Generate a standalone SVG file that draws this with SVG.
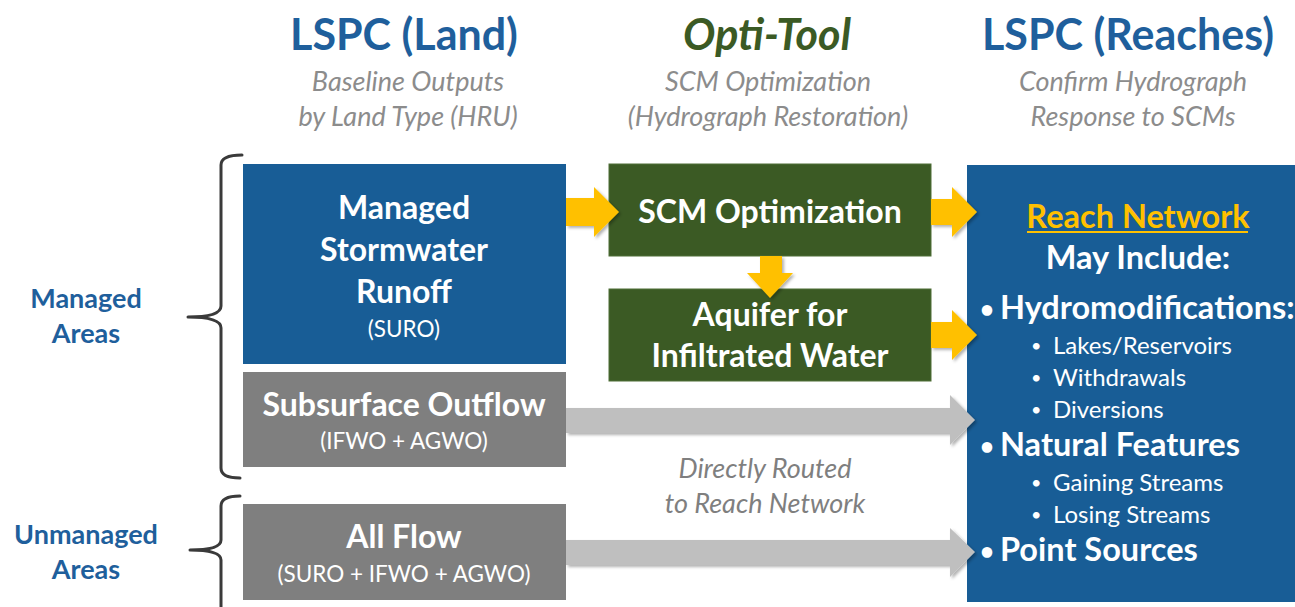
<svg xmlns="http://www.w3.org/2000/svg" width="1295" height="607" viewBox="0 0 1295 607">
<defs>
<style>
text{font-family:Lato,"Noto Sans","Liberation Sans",sans-serif}
.title{font-size:43px;font-weight:bold;text-anchor:middle}
.sub{font-size:27px;font-style:italic;fill:#8c8c8c;text-anchor:middle}
.area{font-size:27px;font-weight:bold;fill:#1f5f9c;text-anchor:middle}
.bt{font-size:32px;font-weight:bold;fill:#fff;text-anchor:middle}
.bs{font-size:22.5px;fill:#fff;text-anchor:middle}
.rb{font-size:32.5px;font-weight:bold;fill:#fff}
.rs{font-size:24px;fill:#fff}
.bul{font-size:24px;font-weight:bold;fill:#fff}
.bul2{font-size:18px;fill:#fff}
.brace{fill:none;stroke:#3a3a3a;stroke-width:3;stroke-linecap:round;stroke-linejoin:round}
.ya{fill:#ffc000;filter:url(#sh)}
.ga{fill:#bfbfbf;filter:url(#sh)}
</style>
<filter id="sh" x="-10%" y="-20%" width="130%" height="160%">
<feDropShadow dx="2" dy="2" stdDeviation="1.5" flood-color="#000" flood-opacity="0.3"/>
</filter>
</defs>
<rect width="1295" height="607" fill="#fff"/>

<g id="headers">
<text class="title" x="404" y="50" fill="#1f5f9c">LSPC (Land)</text>
<text class="title" x="767" y="50" fill="#3b5a24" font-style="italic">Opti-Tool</text>
<text class="title" x="1128" y="50" fill="#1f5f9c">LSPC (Reaches)</text>
<text class="sub" x="408" y="91">Baseline Outputs</text>
<text class="sub" x="408" y="126">by Land Type (HRU)</text>
<text class="sub" x="768" y="91">SCM Optimization</text>
<text class="sub" x="768" y="126">(Hydrograph Restoration)</text>
<text class="sub" x="1133" y="91">Confirm Hydrograph</text>
<text class="sub" x="1133" y="126">Response to SCMs</text>
</g>

<g id="managed-areas">
<path class="brace" d="M242 155 Q221 155 221 165 L221 306 Q221 317 188 317 Q221 317 221 328 L221 468 Q221 478 240 478"/>
<text class="area" x="86" y="308">Managed</text>
<text class="area" x="86" y="343">Areas</text>
</g>

<g id="unmanaged-areas">
<path class="brace" d="M240 496 Q221 496 221 506 L221 540 Q221 550 190 550 Q221 550 221 560 L221 610"/>
<text class="area" x="86" y="544">Unmanaged</text>
<text class="area" x="86" y="579">Areas</text>
</g>

<g id="managed-runoff">
<rect x="243" y="164" width="323" height="200" fill="#185d96"/>
<text class="bt" x="404" y="219">Managed</text>
<text class="bt" x="404" y="261">Stormwater</text>
<text class="bt" x="404" y="303">Runoff</text>
<text class="bs" x="404" y="337">(SURO)</text>
</g>

<g id="subsurface-outflow">
<rect x="243" y="372" width="323" height="95" fill="#7f7f7f"/>
<text class="bt" x="404" y="416">Subsurface Outflow</text>
<text class="bs" x="404" y="449">(IFWO + AGWO)</text>
</g>

<g id="all-flow">
<rect x="243" y="504" width="323" height="96" fill="#7f7f7f"/>
<text class="bt" x="404" y="548">All Flow</text>
<text class="bs" x="404" y="582">(SURO + IFWO + AGWO)</text>
</g>

<g id="scm-optimization">
<rect x="609" y="164" width="322" height="92" fill="#3b5a24" stroke="#4f6f37" stroke-width="1"/>
<text class="bt" x="770" y="223">SCM Optimization</text>
</g>

<g id="aquifer">
<rect x="609" y="289" width="322" height="92" fill="#3b5a24" stroke="#4f6f37" stroke-width="1"/>
<text class="bt" x="770" y="326">Aquifer for</text>
<text class="bt" x="770" y="367">Infiltrated Water</text>
</g>

<g id="reach-network">
<rect x="967" y="165" width="330" height="437" fill="#185d96"/>
<text class="rb" x="1138" y="228" text-anchor="middle" style="fill:#ffc000">Reach Network</text>
<line x1="1027" y1="232" x2="1248" y2="232" stroke="#ffc000" stroke-width="2"/>
<text class="rb" x="1138" y="269" text-anchor="middle">May Include:</text>
<text class="bul" x="980" y="318">•</text>
<text class="rb" x="1000" y="319">Hydromodifications:</text>
<text class="bul2" x="1031" y="352">•</text>
<text class="rs" x="1053" y="354">Lakes/Reservoirs</text>
<text class="bul2" x="1031" y="384">•</text>
<text class="rs" x="1053" y="386">Withdrawals</text>
<text class="bul2" x="1031" y="416">•</text>
<text class="rs" x="1053" y="418">Diversions</text>
<text class="bul" x="980" y="455">•</text>
<text class="rb" x="1000" y="456">Natural Features</text>
<text class="bul2" x="1031" y="489">•</text>
<text class="rs" x="1053" y="491">Gaining Streams</text>
<text class="bul2" x="1031" y="521">•</text>
<text class="rs" x="1053" y="523">Losing Streams</text>
<text class="bul" x="980" y="560">•</text>
<text class="rb" x="1000" y="561">Point Sources</text>
</g>

<g id="connectors">
<path class="ya" d="M566 198 L594 198 L594 187 L619 212 L594 237 L594 226 L566 226 Z"/>
<path class="ya" d="M931 199 L952 199 L952 187 L977 212 L952 237 L952 225 L931 225 Z"/>
<path class="ya" d="M760 256 L782 256 L782 273 L793 273 L770 298 L747 273 L760 273 Z"/>
<path class="ya" d="M931 322 L952 322 L952 310 L977 335 L952 360 L952 348 L931 348 Z"/>
<path class="ga" d="M566 408 L950 408 L950 395 L975 420 L950 445 L950 433 L566 433 Z"/>
<path class="ga" d="M566 540 L950 540 L950 528 L975 552 L950 577 L950 565 L566 565 Z"/>
<text class="sub" x="765" y="478" style="fill:#7f7f7f">Directly Routed</text>
<text class="sub" x="765" y="513" style="fill:#7f7f7f">to Reach Network</text>
</g>
</svg>
